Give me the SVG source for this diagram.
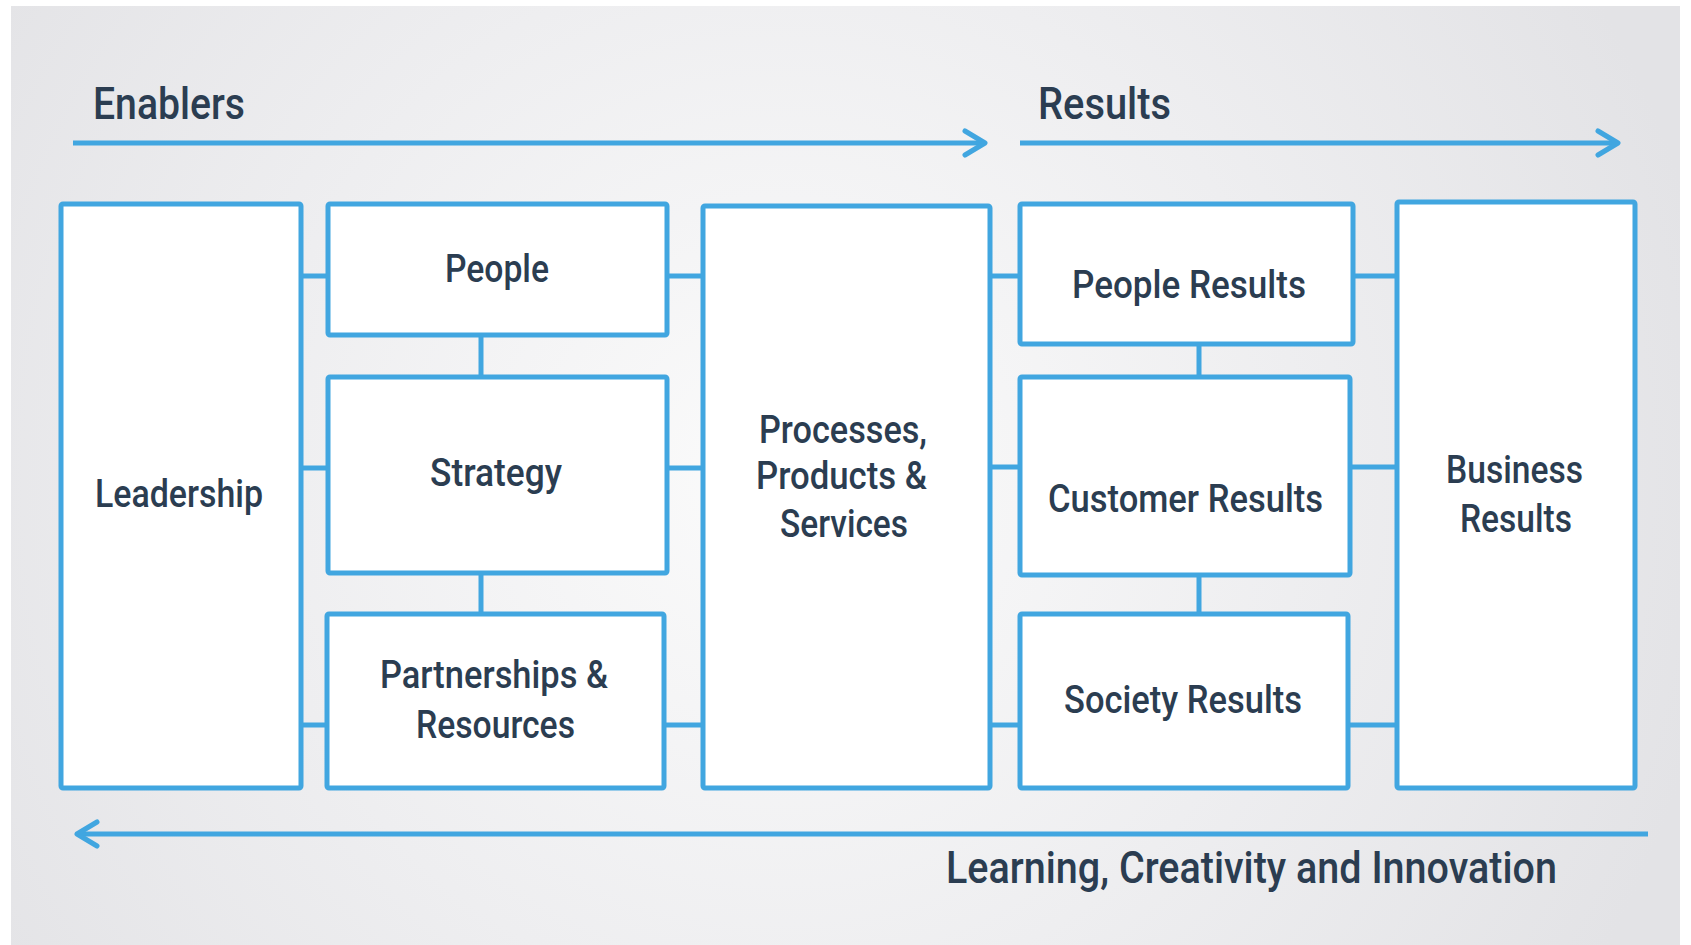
<svg xmlns="http://www.w3.org/2000/svg" width="1691" height="945" viewBox="0 0 1691 945">
<style>
.box{fill:#ffffff;stroke:#41a6e0;stroke-width:5}
.con{stroke:#41a6e0;stroke-width:5;fill:none}
.arr{stroke:#41a6e0;stroke-width:5;fill:none}
.lbl{font-family:Roboto,"Liberation Sans",sans-serif;font-weight:500;font-size:38px;fill:#2b3d51}
.hdr{font-family:Roboto,"Liberation Sans",sans-serif;font-weight:500;font-size:45px;fill:#2b3d51}
</style>
<defs>
<radialGradient id="bg" cx="780" cy="480" r="950" gradientUnits="userSpaceOnUse">
<stop offset="0" stop-color="#fbfbfb"/>
<stop offset="0.55" stop-color="#eeeef0"/>
<stop offset="1" stop-color="#e3e3e6"/>
</radialGradient>
<marker id="chev" viewBox="0 0 30 30" refX="26" refY="15" markerWidth="30" markerHeight="30" markerUnits="userSpaceOnUse" orient="auto">
<path d="M6 3 L26 15 L6 27" fill="none" stroke="#41a6e0" stroke-width="5" stroke-linecap="round" stroke-linejoin="round"/>
</marker>
</defs>
<rect x="0" y="0" width="1691" height="945" fill="#ffffff"/>
<rect x="11" y="6" width="1669" height="939" fill="url(#bg)"/>

<g id="headers">
<text class="hdr" x="93" y="119" textLength="152" lengthAdjust="spacingAndGlyphs">Enablers</text>
<text class="hdr" x="1038" y="119" textLength="133" lengthAdjust="spacingAndGlyphs">Results</text>
<text class="hdr" x="946" y="883" font-size="43" textLength="611" lengthAdjust="spacingAndGlyphs">Learning, Creativity and Innovation</text>
</g>

<g id="connectors">
<line class="arr" x1="73" y1="143" x2="985" y2="143" marker-end="url(#chev)"/>
<line class="arr" x1="1020" y1="143" x2="1618" y2="143" marker-end="url(#chev)"/>
<line class="arr" x1="1648" y1="834" x2="77" y2="834" marker-end="url(#chev)"/>
<line class="con" x1="301" y1="276" x2="328" y2="276"/>
<line class="con" x1="301" y1="468" x2="328" y2="468"/>
<line class="con" x1="301" y1="725" x2="327" y2="725"/>
<line class="con" x1="481" y1="335" x2="481" y2="377"/>
<line class="con" x1="481" y1="573" x2="481" y2="614"/>
<line class="con" x1="667" y1="276" x2="703" y2="276"/>
<line class="con" x1="667" y1="468" x2="703" y2="468"/>
<line class="con" x1="664" y1="725" x2="703" y2="725"/>
<line class="con" x1="990" y1="276" x2="1020" y2="276"/>
<line class="con" x1="990" y1="467" x2="1020" y2="467"/>
<line class="con" x1="990" y1="725" x2="1020" y2="725"/>
<line class="con" x1="1199" y1="344" x2="1199" y2="377"/>
<line class="con" x1="1199" y1="575" x2="1199" y2="614"/>
<line class="con" x1="1353" y1="276" x2="1397" y2="276"/>
<line class="con" x1="1350" y1="467" x2="1397" y2="467"/>
<line class="con" x1="1348" y1="725" x2="1397" y2="725"/>
</g>

<g id="leadership">
<rect class="box" x="61" y="204" width="240" height="584" rx="2"/>
<text class="lbl" x="95" y="507" textLength="168" lengthAdjust="spacingAndGlyphs">Leadership</text>
</g>
<g id="people">
<rect class="box" x="328" y="204" width="339" height="131" rx="2"/>
<text class="lbl" x="445" y="282" textLength="104" lengthAdjust="spacingAndGlyphs">People</text>
</g>
<g id="strategy">
<rect class="box" x="328" y="377" width="339" height="196" rx="2"/>
<text class="lbl" x="430" y="486" textLength="132" lengthAdjust="spacingAndGlyphs">Strategy</text>
</g>
<g id="partnerships">
<rect class="box" x="327" y="614" width="337" height="174" rx="2"/>
<text class="lbl" x="380" y="688" textLength="228" lengthAdjust="spacingAndGlyphs">Partnerships &amp;</text>
<text class="lbl" x="416" y="738" textLength="159" lengthAdjust="spacingAndGlyphs">Resources</text>
</g>
<g id="processes">
<rect class="box" x="703" y="206" width="287" height="582" rx="2"/>
<text class="lbl" x="759" y="443" textLength="168" lengthAdjust="spacingAndGlyphs">Processes,</text>
<text class="lbl" x="756" y="489" textLength="171" lengthAdjust="spacingAndGlyphs">Products &amp;</text>
<text class="lbl" x="780" y="537" textLength="128" lengthAdjust="spacingAndGlyphs">Services</text>
</g>
<g id="people-results">
<rect class="box" x="1020" y="204" width="333" height="140" rx="2"/>
<text class="lbl" x="1072" y="298" textLength="234" lengthAdjust="spacingAndGlyphs">People Results</text>
</g>
<g id="customer-results">
<rect class="box" x="1020" y="377" width="330" height="198" rx="2"/>
<text class="lbl" x="1048" y="512" textLength="275" lengthAdjust="spacingAndGlyphs">Customer Results</text>
</g>
<g id="society-results">
<rect class="box" x="1020" y="614" width="328" height="174" rx="2"/>
<text class="lbl" x="1064" y="713" textLength="238" lengthAdjust="spacingAndGlyphs">Society Results</text>
</g>
<g id="business-results">
<rect class="box" x="1397" y="202" width="238" height="586" rx="2"/>
<text class="lbl" x="1446" y="483" textLength="137" lengthAdjust="spacingAndGlyphs">Business</text>
<text class="lbl" x="1460" y="532" textLength="112" lengthAdjust="spacingAndGlyphs">Results</text>
</g>
</svg>
